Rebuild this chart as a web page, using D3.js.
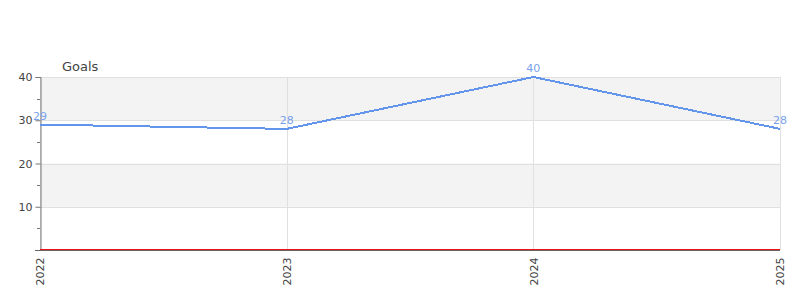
<!DOCTYPE html>
<meta charset="utf-8">
<html>
<head>
    <title>Goals</title>
    <style>
        body { margin: 0; background: #fff; }
        text { font-family: "DejaVu Sans", sans-serif; }
    </style>
</head>
<body>
    <script src="https://cdnjs.cloudflare.com/ajax/libs/d3/7.8.5/d3.min.js"></script>
    <script>
        // データ
        var years = ["2022", "2023", "2024", "2025"];
        var goals = [29, 28, 40, 28];
        var baseline = [0, 0, 0, 0];
        var yTicks = [10, 20, 30, 40];

        var width = 800, height = 300;
        var margin = { left: 40, right: 20, top: 77, bottom: 50 };

        var svg = d3.select("body").append("svg")
            .attr("width", width)
            .attr("height", height);

        var x = d3.scalePoint()
            .domain(years)
            .range([margin.left, width - margin.right]);

        var y = d3.scaleLinear()
            .domain([0, 40])
            .range([height - margin.bottom, margin.top]);

        // 背景の帯
        svg.selectAll("rect.band")
            .data([[30, 40], [10, 20]])
            .enter().append("rect")
            .attr("x", margin.left)
            .attr("width", width - margin.right - margin.left)
            .attr("y", function (d) { return y(d[1]); })
            .attr("height", function (d) { return y(d[0]) - y(d[1]); })
            .attr("fill", "#f3f3f3");

        // グリッド線
        svg.selectAll("line.hgrid")
            .data(yTicks)
            .enter().append("line")
            .attr("x1", margin.left).attr("x2", width - margin.right)
            .attr("y1", function (d) { return Math.round(y(d)) + 0.5; })
            .attr("y2", function (d) { return Math.round(y(d)) + 0.5; })
            .attr("stroke", "#e0e0e0");

        svg.selectAll("line.vgrid")
            .data(years)
            .enter().append("line")
            .attr("x1", function (d) { return Math.round(x(d)) + 0.5; })
            .attr("x2", function (d) { return Math.round(x(d)) + 0.5; })
            .attr("y1", y(40)).attr("y2", y(0))
            .attr("stroke", "#e0e0e0");

        // y軸
        var yAxis = svg.append("g")
            .attr("transform", "translate(" + (margin.left + 0.5) + ",0)")
            .call(d3.axisLeft(y).tickValues(yTicks).tickSize(5).tickPadding(3));
        yAxis.select(".domain").attr("stroke", "#777");
        yAxis.selectAll(".tick line").attr("stroke", "#777");
        yAxis.selectAll("text").attr("font-size", 11).attr("fill", "#444")
            .attr("font-family", "DejaVu Sans, sans-serif");

        // 補助目盛り
        svg.selectAll("line.minor")
            .data([5, 15, 25, 35])
            .enter().append("line")
            .attr("x1", margin.left - 3).attr("x2", margin.left)
            .attr("y1", function (d) { return Math.round(y(d)) + 0.5; })
            .attr("y2", function (d) { return Math.round(y(d)) + 0.5; })
            .attr("stroke", "#777");

        // x軸
        var xAxis = svg.append("g")
            .attr("transform", "translate(0," + (y(0) + 0.5) + ")")
            .call(d3.axisBottom(x).tickSize(0).tickPadding(8));
        xAxis.select(".domain").attr("stroke", "#666").attr("d", "M" + (margin.left - 5) + ",0H" + (width - margin.right));
        xAxis.selectAll("text")
            .attr("font-size", 11).attr("fill", "#444")
            .attr("font-family", "DejaVu Sans, sans-serif")
            .attr("transform", "rotate(-90)")
            .attr("text-anchor", "end")
            .attr("x", -7).attr("y", 0).attr("dy", "0.35em");

        // ベースライン (赤)
        svg.append("path")
            .datum(baseline)
            .attr("fill", "none")
            .attr("stroke", "#ee1111")
            .attr("stroke-width", 1)
            .attr("shape-rendering", "crispEdges")
            .attr("d", d3.line()
                .x(function (d, i) { return x(years[i]); })
                .y(function (d) { return y(d) - 0.5; }));

        // ライン
        svg.append("path")
            .datum(goals)
            .attr("fill", "none")
            .attr("stroke", "#6495ed")
            .attr("stroke-width", 2)
            .attr("shape-rendering", "crispEdges")
            .attr("d", d3.line()
                .x(function (d, i) { return x(years[i]); })
                .y(function (d) { return y(d); }));

        // データラベル
        svg.selectAll("text.lbl")
            .data(goals)
            .enter().append("text")
            .attr("x", function (d, i) { return x(years[i]); })
            .attr("y", function (d) { return y(d) - 5; })
            .attr("text-anchor", "middle")
            .attr("font-size", 11)
            .attr("fill", "#7aa2ea")
            .text(function (d) { return d; });

        // タイトル
        svg.append("text")
            .attr("x", 62).attr("y", 71)
            .attr("font-size", 13)
            .attr("fill", "#444")
            .text("Goals");
    </script>
</body>
</html>
